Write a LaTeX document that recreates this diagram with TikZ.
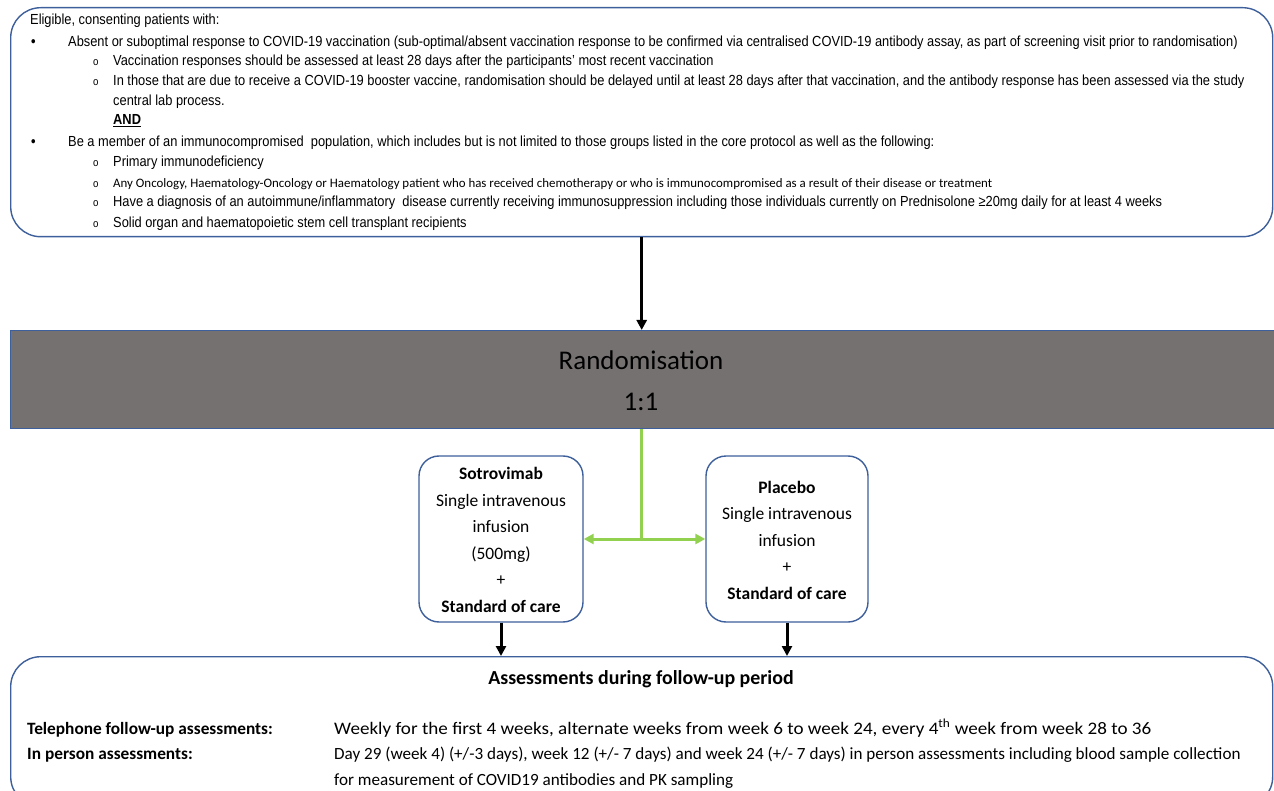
\documentclass[tikz,border=0pt]{standalone}
\usepackage{fontspec}
\setmainfont{Carlito}
\newfontfamily\arialn[FakeStretch=0.88]{Liberation Sans}
\usetikzlibrary{arrows.meta}
\definecolor{bordblue}{HTML}{3D5F9B}
\definecolor{randgray}{HTML}{767171}
\definecolor{arrgreen}{HTML}{92D050}
\tikzset{
  rbox/.style={draw=bordblue, line width=1.4pt, fill=white},
  blk/.style={line width=3pt, -{Triangle[length=10pt,width=10pt]}},
  grn/.style={draw=arrgreen, line width=3pt},
  grnarrow/.style={grn, {Triangle[length=10pt,width=10pt]}-{Triangle[length=10pt,width=10pt]}},
  tl/.style={anchor=base west, inner sep=0pt, font=\arialn\fontsize{14.6}{17}\selectfont},
  bul/.style={anchor=base west, inner sep=0pt, font=\arialn\bfseries\fontsize{14.6}{17}\selectfont},
  sbul/.style={anchor=base west, inner sep=0pt, font=\arialn\fontsize{11}{14}\selectfont},
  cal/.style={anchor=base west, inner sep=0pt, font=\fontsize{17.1}{20}\selectfont},
  armtxt/.style={align=center, font=\fontsize{17.5}{26.5}\selectfont},
}
\begin{document}
\begin{tikzpicture}[x=1pt,y=-1pt]
\useasboundingbox (0,0) rectangle (1274,791);
% top eligibility box
\node[rbox, rounded corners=30pt, minimum width=1262pt, minimum height=229pt, anchor=north west, inner sep=0pt] (elig) at (10,7) {};
\node[tl] (t1) at (30,25) {Eligible, consenting patients with:};
\node[bul] (b1) at (31,47) {•};
\node[tl] (t2) at (68,47) {Absent or suboptimal response to COVID-19 vaccination (sub-optimal/absent vaccination response to be confirmed via centralised COVID-19 antibody assay, as part of screening visit prior to randomisation)};
\node[sbul] (s1) at (93,66) {o};
\node[tl] (t3) at (113,66) {Vaccination responses should be assessed at least 28 days after the participants’ most recent vaccination};
\node[sbul] (s2) at (93,86) {o};
\node[tl] (t4) at (113,86) {In those that are due to receive a COVID-19 booster vaccine, randomisation should be delayed until at least 28 days after that vaccination, and the antibody response has been assessed via the study};
\node[tl] (t5) at (113,106) {central lab process.};
\node[tl] (t6) at (113,125) {\underline{\textbf{AND}}};
\node[bul] (b2) at (31,147) {•};
\node[tl] (t7) at (68,147) {Be a member of an immunocompromised\ \ population, which includes but is not limited to those groups listed in the core protocol as well as the following:};
\node[sbul] (s3) at (93,167) {o};
\node[tl] (t8) at (113,167) {Primary immunodeficiency};
\node[sbul] (s4) at (93,188) {o};
\node[anchor=base west, inner sep=0pt, font=\fontsize{12.9}{14}\selectfont] (t9) at (113,188) {Any Oncology, Haematology-Oncology or Haematology patient who has received chemotherapy or who is immunocompromised as a result of their disease or treatment};
\node[sbul] (s5) at (93,207) {o};
\node[tl] (t10) at (113,207) {Have a diagnosis of an autoimmune/inflammatory\ \ disease currently receiving immunosuppression including those individuals currently on Prednisolone ≥20mg daily for at least 4 weeks};
\node[sbul] (s6) at (93,228) {o};
\node[tl] (t11) at (113,228) {Solid organ and haematopoietic stem cell transplant recipients};
% randomisation
\node[draw=bordblue, line width=1.4pt, fill=randgray, minimum width=1266pt, minimum height=98pt, anchor=north west, inner sep=0pt] (randbox) at (10,330) {};
\node[align=center, font=\fontsize{27}{41}\selectfont, text=black] (randtxt) at (641,381) {Randomisation\\1:1};
\draw[blk] (elig.south) -- (randbox.north -| elig.south);
% arms
\node[rbox, rounded corners=20pt, minimum width=164pt, minimum height=166pt, inner sep=0pt] (sot) at (501,539) {};
\node[armtxt] (sottxt) at (501,540) {\textbf{Sotrovimab}\\Single intravenous\\infusion\\(500mg)\\+\\\textbf{Standard of care}};
\node[rbox, rounded corners=20pt, minimum width=162pt, minimum height=166pt, inner sep=0pt] (plc) at (787,539) {};
\node[armtxt] (plctxt) at (787,540) {\textbf{Placebo}\\Single intravenous\\infusion\\+\\\textbf{Standard of care}};
\draw[grnarrow] (sot.east) -- (plc.west);
\draw[grn] (randbox.south -| elig.south) -- (elig.south |- sot.east);
% assessments box
\node[rbox, rounded corners=30pt, minimum width=1262pt, minimum height=150pt, anchor=north west, inner sep=0pt] (assess) at (10,656) {};
\draw[blk] (sot.south) -- (sot.south |- assess.north);
\draw[blk] (plc.south) -- (plc.south |- assess.north);
\node[anchor=base, inner sep=0pt, font=\bfseries\fontsize{19.9}{22}\selectfont] (atitle) at (641,684) {Assessments during follow-up period};
\node[cal, font=\bfseries\fontsize{17.3}{20}\selectfont] (l1) at (27,734) {Telephone follow-up assessments:};
\node[cal, font=\bfseries\fontsize{17.3}{20}\selectfont] (l2) at (27,759) {In person assessments:};
\node[cal, font=\fontsize{17.6}{20}\selectfont] (r1) at (334,734) {\scalebox{1.085}[1]{Weekly for the first 4 weeks, alternate weeks from week 6 to week 24, every 4\textsuperscript{th} week from week 28 to 36}};
\node[cal] (r2) at (334,759) {Day 29 (week 4) (+/-3 days), week 12 (+/- 7 days) and week 24 (+/- 7 days) in person assessments including blood sample collection};
\node[cal] (r3) at (334,785) {for measurement of COVID19 antibodies and PK sampling};
\end{tikzpicture}
\end{document}
